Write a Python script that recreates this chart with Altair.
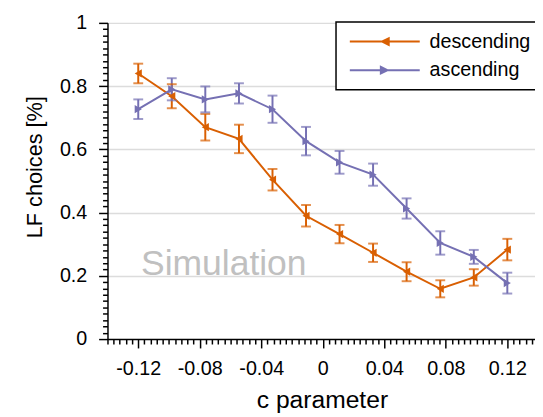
import altair as alt
import pandas as pd

# ---- data ----
c_values = [-0.12, -0.0982, -0.0764, -0.0545, -0.0327, -0.0109,
            0.0109, 0.0327, 0.0545, 0.0764, 0.0982, 0.12]
desc_mean = [0.840, 0.768, 0.670, 0.633, 0.504, 0.390,
             0.332, 0.273, 0.213, 0.159, 0.195, 0.283]
desc_err = [0.031, 0.038, 0.042, 0.045, 0.034, 0.034,
            0.029, 0.029, 0.030, 0.027, 0.026, 0.034]
asc_mean = [0.727, 0.790, 0.758, 0.777, 0.727, 0.626,
            0.559, 0.520, 0.413, 0.304, 0.260, 0.177]
asc_err = [0.031, 0.035, 0.041, 0.032, 0.043, 0.045,
           0.036, 0.035, 0.032, 0.037, 0.022, 0.033]
series_names = ["descending", "ascending"]
series_colors = ["#D95F02", "#7570B3"]
annotation_text = ["Simulation"]
annotation_x = [-0.1182]
annotation_y = [0.203]

x_ticks = [round(-0.14 + 0.004 * i, 3) for i in range(70)]
y_ticks = [round(0.02 * i, 2) for i in range(51)]

rows = []
for name, means, errs in [("descending", desc_mean, desc_err), ("ascending", asc_mean, asc_err)]:
    for c, m, e in zip(c_values, means, errs):
        rows.append({"c": c, "val": m, "lo": m - e, "hi": m + e, "series": name})
df = pd.DataFrame(rows)
ann = pd.DataFrame({"c": annotation_x, "val": annotation_y, "t": annotation_text})

FONT = "Liberation Sans"

x_major = "abs(round(datum.value*1000)) % 40 == 0"
y_major = "round(datum.value*100) % 20 == 0"

x_axis = alt.Axis(
    values=x_ticks,
    labelExpr=f"{x_major} ? '' + round(datum.value*100)/100 : ''",
    tickSize={"condition": {"test": x_major, "value": 9}, "value": 5},
    tickWidth=1.5, tickColor="black",
    domainColor="black", domainWidth=1.5,
    labelFontSize=20, labelFont=FONT, labelColor="black",
    labelPadding=11, labelOverlap=False, labelFlush=False,
    grid=False,
    title="c parameter", titleFontSize=25, titleFont=FONT, titleFontWeight="normal",
    titleColor="black", titleX=217.7, titleY=69, titleBaseline="alphabetic", titleAlign="center",
)
y_axis = alt.Axis(
    values=y_ticks,
    labelExpr=f"{y_major} ? '' + round(datum.value*10)/10 : ''",
    tickSize={"condition": {"test": y_major, "value": 9}, "value": 5},
    tickWidth=1.5, tickColor="black",
    domainColor="black", domainWidth=1.5,
    labelFontSize=20, labelFont=FONT, labelColor="black",
    labelPadding=12, labelOverlap=False, labelFlush=False,
    grid=True, gridColor="#dcdcdc", gridWidth=1.5,
    gridOpacity={"condition": {"test": f"{y_major} && datum.value > 0", "value": 1}, "value": 0},
    title="LF choices [%]", titleFontSize=22, titleFont=FONT, titleFontWeight="normal",
    titleColor="black", titleX=-67, titleY=146, titleAngle=-90,
    titleBaseline="alphabetic", titleAlign="center",
)

xs = alt.Scale(domain=[-0.14, 0.138], nice=False, zero=False)
ys = alt.Scale(domain=[0, 1], nice=False, zero=False)
cscale = alt.Scale(domain=series_names, range=series_colors)


def X(f):
    return alt.X(f, type="quantitative", scale=xs, axis=x_axis)


def Y(f):
    return alt.Y(f, type="quantitative", scale=ys, axis=y_axis)


C = alt.Color("series:N", scale=cscale, legend=None)
base = alt.Chart(df)

line = base.mark_line(strokeWidth=2).encode(x=X("c"), y=Y("val"), color=C)
bars = base.mark_rule(strokeWidth=2).encode(x=X("c"), y=Y("lo"), y2="hi:Q", color=C)
cap_top = base.mark_tick(thickness=2, size=10, orient="horizontal").encode(x=X("c"), y=Y("hi"), color=C)
cap_bot = base.mark_tick(thickness=2, size=10, orient="horizontal").encode(x=X("c"), y=Y("lo"), color=C)
points = base.mark_point(filled=True, size=70, opacity=1).encode(
    x=X("c"), y=Y("val"), color=C,
    shape=alt.Shape("series:N", scale=alt.Scale(domain=series_names, range=["triangle-left", "triangle-right"]), legend=None),
)

desc_sym = "M-3.55,-0.1H3.55V0.1H-3.55Z M0.5,-0.5L0.5,0.5L-0.5,0Z"
asc_sym = "M-3.55,-0.1H3.55V0.1H-3.55Z M-0.5,-0.5L0.5,0L-0.5,0.5Z"
leg = alt.Legend(
    orient="none", legendX=232, legendY=-1,
    title=None,
    symbolSize=400, symbolOffset=29.5, labelOffset=35.5,
    labelFontSize=20, labelFont=FONT, labelColor="black",
    padding=10, rowPadding=9,
    strokeColor="black", fillColor="white",
    symbolStrokeWidth=0,
)
legend_layer = base.transform_filter("datum.c > 100").mark_point(filled=True, opacity=1).encode(
    color=alt.Color("series:N", scale=cscale, legend=leg),
    shape=alt.Shape("series:N", scale=alt.Scale(domain=series_names, range=[desc_sym, asc_sym]), legend=leg),
)

text = alt.Chart(ann).mark_text(
    align="left", baseline="alphabetic", fontSize=36, font=FONT, color="#c0c0c0"
).encode(x=X("c"), y=Y("val"), text="t:N")

chart = alt.layer(text, line, bars, cap_top, cap_bot, points, legend_layer).resolve_scale(
    color="independent", shape="independent"
).properties(
    width=434, height=321,
    autosize=alt.AutoSizeParams(type="none"),
    padding={"left": 101, "top": 12, "right": 0, "bottom": 76},
).configure_view(stroke=None).configure_legend(strokeWidth=1.5)

chart.save("out.html", embed_options={"renderer": "svg", "actions": False})
